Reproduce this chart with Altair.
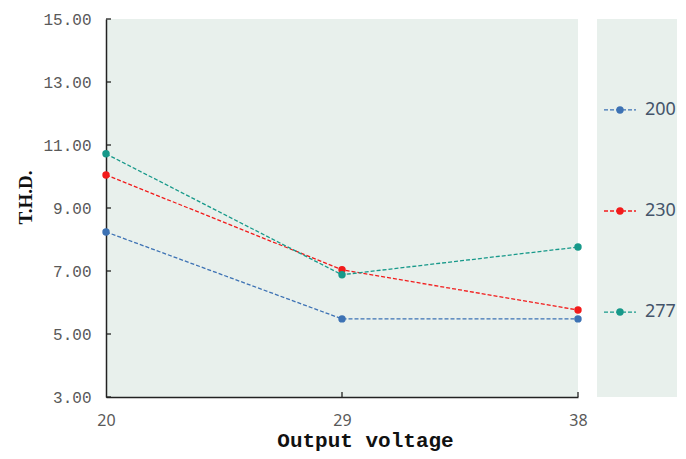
import altair as alt
import pandas as pd

voltages = [20, 29, 38]
series = ["200", "230", "277"]
thd_200 = [8.24, 5.48, 5.48]
thd_230 = [10.05, 7.04, 5.76]
thd_277 = [10.72, 6.88, 7.76]
colors = ["#3d72b4", "#f21b1b", "#17998a"]
y_ticks = [3, 5, 7, 9, 11, 13, 15]
x_ticks = [20, 29, 38]

rows = []
for s, vals in zip(series, [thd_200, thd_230, thd_277]):
    for v, t in zip(voltages, vals):
        rows.append({"series": s, "voltage": v, "thd": t})
df = pd.DataFrame(rows)

W, H = 472, 378
BG = "#e8f0ec"
view_bg = alt.ViewBackground(fill=BG, stroke=None, strokeWidth=0)

color_scale = alt.Scale(domain=series, range=colors)

x_enc = alt.X(
    "voltage:Q",
    scale=alt.Scale(domain=[20, 38], nice=False),
    axis=alt.Axis(
        values=x_ticks, title="Output voltage", grid=False, ticks=False, labelFlush=False,
        labelPadding=15, labelFont="Noto Sans", labelFontSize=16, labelColor="#595959",
        domainColor="#222222", domainWidth=1.5,
        titleFont="Liberation Mono", titleFontSize=21, titleFontWeight="bold",
        titleColor="#111111", titleX=259, titleY=49, titleBaseline="alphabetic",
    ),
)
y_enc = alt.Y(
    "thd:Q",
    scale=alt.Scale(domain=[3, 15], nice=False),
    axis=alt.Axis(
        values=y_ticks, format=".2f", title="T.H.D.", grid=False, ticks=False, labelFlush=False,
        labelPadding=15, labelFont="Liberation Mono", labelFontSize=16, labelColor="#595959",
        domainColor="#222222", domainWidth=1.5,
        titleFont="Liberation Serif", titleFontSize=19, titleFontWeight="bold",
        titleColor="#111111", titleX=-81, titleY=178, titleBaseline="middle",
    ),
)

lines = alt.Chart(df).mark_line(strokeDash=[4, 2], strokeWidth=1.3).encode(
    x=x_enc, y=y_enc,
    color=alt.Color("series:N", scale=color_scale, legend=None),
    detail="series:N",
)
points = alt.Chart(df).mark_circle(size=55, opacity=1).encode(
    x=x_enc, y=y_enc,
    color=alt.Color("series:N", scale=color_scale, legend=None),
)

ytick_df = pd.DataFrame({"thd": y_ticks})
yticks = alt.Chart(ytick_df).mark_rule(color="#222222", strokeWidth=1.3).encode(
    y=y_enc, x=alt.value(0), x2=alt.value(5)
)
xtick_df = pd.DataFrame({"voltage": x_ticks[1:]})
xticks = alt.Chart(xtick_df).mark_rule(color="#222222", strokeWidth=1.3).encode(
    x=x_enc, y=alt.value(H), y2=alt.value(H - 5)
)

main = alt.layer(lines, points, yticks, xticks).properties(width=W, height=H, view=view_bg)

leg_df = pd.DataFrame({"series": series})
leg_y = alt.Y("series:N", scale=alt.Scale(type="point", domain=series, padding=0.87, align=0.517), axis=None)
leg_color = alt.Color("series:N", scale=color_scale, legend=None)

leg_rule = alt.Chart(leg_df).mark_rule(strokeDash=[4, 2], strokeWidth=1.3).encode(
    y=leg_y, x=alt.value(7), x2=alt.value(39), color=leg_color
)
leg_pt = alt.Chart(leg_df).mark_circle(size=55, opacity=1).encode(
    y=leg_y, x=alt.value(23), color=leg_color
)
leg_txt = alt.Chart(leg_df).mark_text(
    align="left", baseline="middle", fontSize=18, font="Noto Sans", color="#44546a"
).encode(y=leg_y, x=alt.value(48), text="series:N")

legend = alt.layer(leg_rule, leg_pt, leg_txt).properties(width=80, height=H, view=view_bg)

chart = alt.hconcat(main, legend, spacing=19, bounds="flush").properties(
    padding={"left": 8, "top": 3, "right": 0, "bottom": 5}
).configure_view(strokeWidth=0).configure(background="white")

chart.save("out.html", embed_options={"renderer": "svg", "actions": False})
